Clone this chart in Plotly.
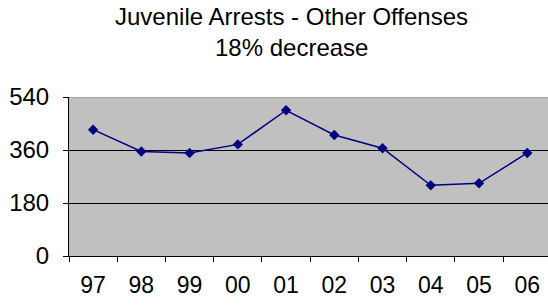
import plotly.graph_objects as go

years = ["97", "98", "99", "00", "01", "02", "03", "04", "05", "06"]
arrests = [429, 355, 350, 379, 495, 411, 366, 240, 247, 350]
y_ticks = [0, 180, 360, 540]

title_line1 = "Juvenile Arrests - Other Offenses"
title_line2 = "18% decrease"

FONT = "Arial, Liberation Sans, sans-serif"
W, H = 548, 305
L, T, B = 68.5, 97.3, 49

fig = go.Figure()
fig.add_trace(go.Scatter(
    x=years, y=arrests, mode="lines+markers",
    line=dict(color="#000080", width=1.5),
    marker=dict(symbol="diamond", size=8, color="#000080"),
    cliponaxis=False, showlegend=False, hoverinfo="skip",
))

fig.update_layout(
    width=W, height=H,
    margin=dict(l=L, r=0, t=T, b=B, autoexpand=False),
    paper_bgcolor="white", plot_bgcolor="#C0C0C0",
    font=dict(family=FONT, color="black"),
    showlegend=False,
)
ph = H - T - B
for txt, yc in [(title_line1, 17), (title_line2, 47.5)]:
    fig.add_annotation(
        text=txt, xref="paper", yref="paper",
        x=(291.7 - L) / (W - L), y=1 + (T - yc) / ph,
        xanchor="center", yanchor="middle", showarrow=False,
        font=dict(size=24, family=FONT, color="black"),
    )

fig.update_xaxes(
    type="category", range=[-0.5, 9.43], automargin=False,
    tickson="boundaries", ticks="outside", ticklen=5, tickcolor="black",
    showline=True, linecolor="black", linewidth=1,
    showgrid=False, tickfont=dict(size=23, family=FONT, color="black"),
    ticklabelstandoff=8,
)
fig.update_yaxes(
    range=[0, 540], tickvals=y_ticks, ticks="outside", ticklen=5, tickcolor="black",
    automargin=False,
    showline=True, linecolor="black", linewidth=1,
    showgrid=True, gridcolor="black", gridwidth=1, zeroline=False,
    tickfont=dict(size=24, family=FONT, color="black"),
    ticklabelstandoff=9,
)
fig.add_shape(type="line", xref="paper", yref="y", x0=0, x1=1, y0=540, y1=540,
              line=dict(color="#808080", width=1), layer="above")

# let the figure fill the whole window (drop the page's default 8px body margin)
fig.write_html("out.html", config={"displayModeBar": False},
               post_script="document.body.style.margin='0';")
